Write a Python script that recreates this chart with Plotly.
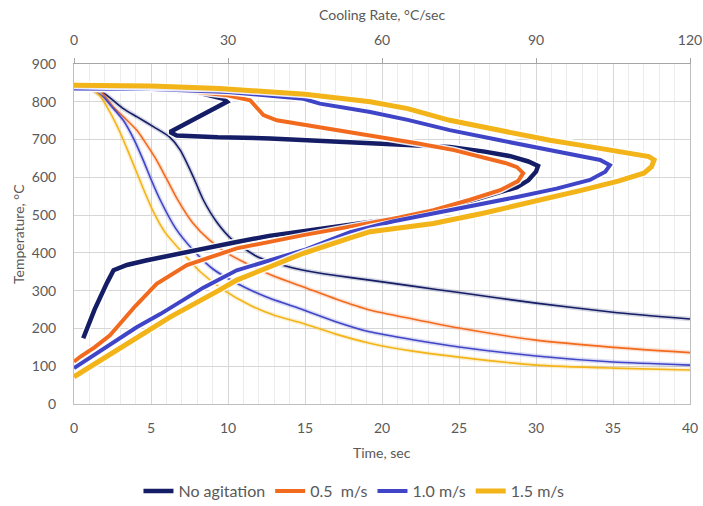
import plotly.graph_objects as go

# ---------------- data ----------------
series_names = ["No agitation", "0.5  m/s", "1.0 m/s", "1.5 m/s"]
series_colors = ["#141d66", "#f26a1e", "#3f45c6", "#f2b418"]

# Cooling curves: temperature vs time (bottom axis)
t_none = [0, 1.0, 1.7, 2.5, 3.2, 4.1, 5.2, 6.2, 6.9, 7.75, 8.4, 9.3, 10.3, 11.9, 13.5, 14.9, 17, 19.2, 22, 25, 30, 35, 40]
T_none = [840, 838, 830, 805, 782, 760, 733, 707, 672, 601, 540, 480, 434, 390, 368, 354, 340, 328, 312, 295, 267, 243, 225]

t_05 = [0, 1.0, 1.7, 2.55, 3.3, 4.07, 4.7, 5.37, 6.0, 6.67, 7.7, 8.8, 10, 11.2, 13, 14.9, 17, 19.2, 22, 25, 30, 35, 40]
T_05 = [840, 838, 828, 786, 757, 725, 688, 645, 597, 545, 480, 434, 398, 372, 338, 310, 278, 249, 225, 201, 169, 150, 136]

t_10 = [0, 0.9, 1.9, 2.5, 3.2, 3.9, 4.5, 5.0, 5.6, 6.6, 7.75, 9.0, 10.6, 12.5, 14.9, 17, 19.2, 22, 25, 30, 35, 40]
T_10 = [840, 838, 813, 785, 751, 700, 645, 595, 540, 465, 407, 358, 319, 283, 249, 218, 191, 170, 151, 127, 111, 103]

t_15 = [0, 0.8, 1.7, 2.3, 3.0, 3.5, 4.0, 4.6, 5.2, 5.9, 6.9, 8.2, 9.7, 11.5, 13, 14.9, 17, 19.2, 22, 25, 30, 35, 40]
T_15 = [842, 840, 815, 775, 718, 670, 620, 560, 505, 455, 407, 350, 302, 260, 235, 213, 185, 161, 140, 124, 103, 95, 90]

# Cooling-rate curves: temperature vs cooling rate (top axis)
r_none = [0, 8, 16, 24, 29.1, 29.8, 27, 23, 18.7, 20, 28, 38.2, 48, 57.7, 66, 73.2, 80, 85, 88.5, 90.4, 90, 88.5, 86.3, 80, 73.2, 65, 57.7, 48, 44.7, 38, 31.7, 24.5, 18.7, 14, 10.3, 7.7, 6.4, 4, 1.8]
R_none = [836, 835, 833, 825, 808, 800, 780, 752, 720, 711, 706, 703, 697, 689, 684, 680, 668, 656, 642, 630, 615, 592, 574, 548, 521, 496, 482, 466, 460, 445, 429, 410, 392, 380, 368, 354, 320, 250, 174]

r_05 = [0, 10, 20, 29.8, 34.3, 36.2, 36.9, 39.5, 47.9, 57.7, 66.8, 74, 79.7, 84, 86.3, 87.5, 86.5, 83, 77, 70, 62, 53.8, 44.7, 31.7, 22, 16.1, 12, 7, 4, 1.2, 0]
R_05 = [840, 838, 832, 817, 804, 778, 765, 751, 733, 712, 690, 672, 653, 638, 627, 611, 590, 566, 540, 513, 490, 470, 447, 412, 368, 318, 260, 182, 150, 125, 112]

r_10 = [0, 15, 30, 44.7, 47.9, 57.7, 65, 73.2, 83, 92.7, 98, 102.5, 104.4, 103.5, 100.5, 94, 86.3, 78, 70, 62, 57.7, 53.8, 44.7, 31.7, 25.2, 16.8, 12.2, 7, 3, 0]
R_10 = [835, 834, 826, 808, 795, 773, 752, 725, 698, 672, 660, 646, 632, 615, 593, 570, 548, 526, 505, 483, 468, 455, 407, 354, 308, 238, 203, 156, 122, 95]

r_15 = [0, 15, 28.4, 45, 57.7, 65, 73.2, 83, 92.7, 101, 109, 112, 113, 112.5, 111, 106, 99, 90, 79.7, 70, 60, 57.7, 53.8, 44.7, 31.7, 28.4, 18.7, 10, 4, 0]
R_15 = [844, 842, 835, 820, 800, 782, 751, 725, 698, 680, 664, 655, 646, 628, 611, 590, 566, 536, 505, 478, 462, 456, 440, 399, 328, 302, 230, 155, 105, 72]

# tick labels
time_ticks = [0, 5, 10, 15, 20, 25, 30, 35, 40]
rate_ticks = [0, 30, 60, 90, 120]
temp_ticks = [0, 100, 200, 300, 400, 500, 600, 700, 800, 900]

# ---------------- figure ----------------
FONT = "Lato, 'Open Sans', sans-serif"
GREY = "#595959"
FS = 14

fig = go.Figure()

cool_x = [t_none, t_05, t_10, t_15]
cool_y = [T_none, T_05, T_10, T_15]
rate_x = [r_none, r_05, r_10, r_15]
rate_y = [R_none, R_05, R_10, R_15]
thick_w = [4.5, 4, 4, 5]

def pale(hexc, a):
    h = hexc.lstrip("#")
    r, g, b = int(h[0:2], 16), int(h[2:4], 16), int(h[4:6], 16)
    return f"rgba({r},{g},{b},{a})"

# thin cooling curves (with soft glow)
for name, col, xs, ys in zip(series_names, series_colors, cool_x, cool_y):
    fig.add_trace(go.Scatter(x=xs, y=ys, mode="lines", xaxis="x", yaxis="y",
                             line=dict(color=pale(col, 0.18), width=4.5, shape="spline", smoothing=0.6),
                             showlegend=False, hoverinfo="skip"))
    fig.add_trace(go.Scatter(x=xs, y=ys, mode="lines", xaxis="x", yaxis="y",
                             line=dict(color=col, width=1.6, shape="spline", smoothing=0.6),
                             showlegend=False, name=name))

# thick cooling-rate curves (white outline)
for name, col, xs, ys, w in zip(series_names, series_colors, rate_x, rate_y, thick_w):
    fig.add_trace(go.Scatter(x=xs, y=ys, mode="lines", xaxis="x2", yaxis="y",
                             line=dict(color="rgba(255,255,255,0.9)", width=w + 3),
                             showlegend=False, hoverinfo="skip"))
    fig.add_trace(go.Scatter(x=xs, y=ys, mode="lines", xaxis="x2", yaxis="y",
                             line=dict(color=col, width=w),
                             name=name, showlegend=True))

fig.update_layout(
    width=703, height=506,
    margin=dict(l=74, r=13, t=64, b=102, autoexpand=False),
    paper_bgcolor="white", plot_bgcolor="white",
    font=dict(family=FONT, size=FS, color=GREY),
    xaxis=dict(
        range=[0, 40], tickvals=time_ticks, ticktext=[str(v) for v in time_ticks],
        showgrid=True, gridcolor="#d6d6d6", gridwidth=1,
        minor=dict(dtick=1, showgrid=True, gridcolor="#ececec", gridwidth=1),
        showline=True, linecolor="#bfbfbf", linewidth=1,
        ticks="", zeroline=False, automargin=False, ticklabelstandoff=11,
        tickfont=dict(size=FS, color=GREY),
    ),
    xaxis2=dict(
        range=[0, 120], tickvals=rate_ticks, ticktext=[str(v) for v in rate_ticks],
        overlaying="x", side="top", anchor="y",
        showgrid=False, showline=True, linecolor="#a6a6a6", linewidth=1,
        ticks="outside", ticklen=5, tickcolor="#a6a6a6", zeroline=False,
        automargin=False, ticklabelstandoff=7,
        tickfont=dict(size=FS, color=GREY),
    ),
    yaxis=dict(
        range=[0, 900], tickvals=temp_ticks, ticktext=[str(v) for v in temp_ticks],
        showgrid=True, gridcolor="#d6d6d6", gridwidth=1,
        showline=True, linecolor="#bfbfbf", linewidth=1, mirror=True,
        ticks="", zeroline=False, automargin=False, ticklabelstandoff=14,
        tickfont=dict(size=FS, color=GREY),
    ),
    legend=dict(orientation="h", x=0.4545, xanchor="center", y=-0.256, yanchor="middle",
                font=dict(size=16, color=GREY), tracegroupgap=0,
                bgcolor="rgba(0,0,0,0)"),
    showlegend=True,
    annotations=[
        dict(text="Time, sec", xref="paper", yref="paper", x=0.5, y=-0.143,
             xanchor="center", yanchor="middle", showarrow=False,
             font=dict(size=FS, color=GREY)),
        dict(text="Cooling Rate, °C/sec", xref="paper", yref="paper", x=0.5, y=1.147,
             xanchor="center", yanchor="middle", showarrow=False,
             font=dict(size=FS, color=GREY)),
        dict(text="Temperature, °C", xref="paper", yref="paper", x=-0.0909, y=0.5,
             xanchor="center", yanchor="middle", textangle=-90, showarrow=False,
             font=dict(size=FS, color=GREY)),
    ],
)

fig.write_html("out.html", config={"displayModeBar": False},
               post_script="document.body.style.margin='0px';")
